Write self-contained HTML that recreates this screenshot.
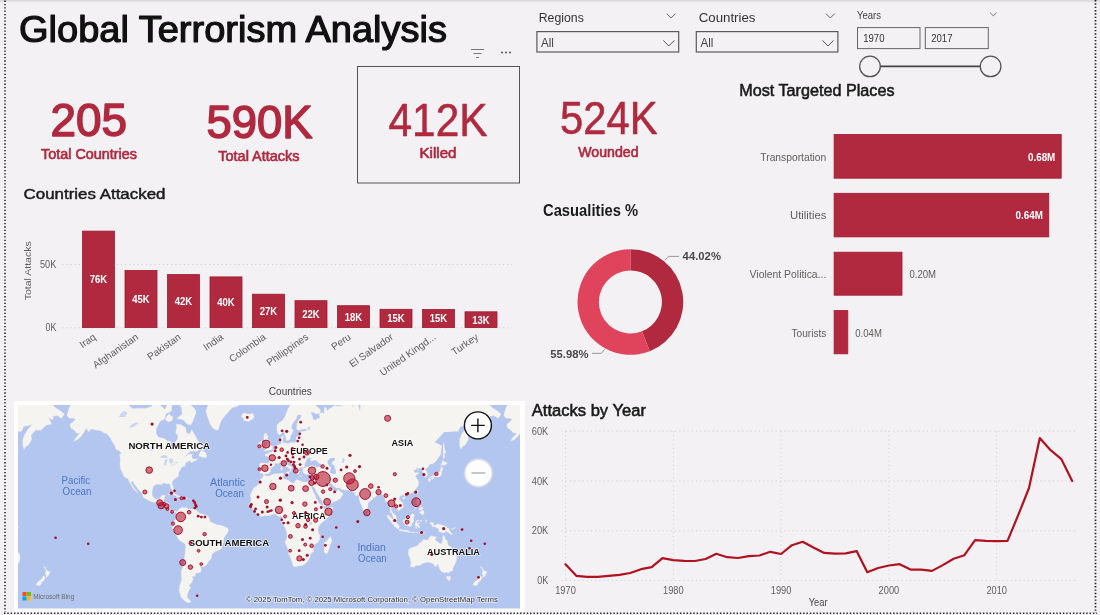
<!DOCTYPE html><html><head><meta charset="utf-8"><title>Global Terrorism Analysis</title><style>
html,body{margin:0;padding:0;}
body{width:1100px;height:615px;overflow:hidden;background:#f3f1f4;font-family:"Liberation Sans", sans-serif;position:relative;color:#222;}
.abs{position:absolute;white-space:nowrap;line-height:1;}
svg{position:absolute;left:0;top:0;}
svg text{font-family:"Liberation Sans", sans-serif;}
</style></head><body>
<div class="abs" style="left:0;top:0;width:1100px;height:3px;background:linear-gradient(#d4d3d6,#f3f1f4);"></div>
<svg width="1100" height="615" viewBox="0 0 1100 615"><line x1="5" y1="0.6" x2="5" y2="612" stroke="#444" stroke-width="1.9" stroke-dasharray="1.3,2.02"/>
<line x1="1095.5" y1="0" x2="1095.5" y2="613" stroke="#222" stroke-width="1.7" stroke-dasharray="1.4,1.93"/>
<line x1="4" y1="613.2" x2="1097" y2="613.2" stroke="#222" stroke-width="1.5" stroke-dasharray="1.4,1.93"/>
<text x="19.0" y="42.1" font-size="36.3" font-weight="normal" fill="#111" textLength="428.0" lengthAdjust="spacingAndGlyphs" stroke="#111" stroke-width="1.2" stroke-linejoin="round">Global Terrorism Analysis</text>
<text x="50.5" y="136.2" font-size="45.5" font-weight="normal" fill="#b0293e" textLength="76.5" lengthAdjust="spacingAndGlyphs" stroke="#b0293e" stroke-width="1.5" stroke-linejoin="round">205</text>
<text x="41.0" y="159.0" font-size="13.8" font-weight="normal" fill="#b0293e" textLength="96.0" lengthAdjust="spacingAndGlyphs" stroke="#b0293e" stroke-width="0.6" stroke-linejoin="round">Total Countries</text>
<text x="206.5" y="137.6" font-size="45.5" font-weight="normal" fill="#b0293e" textLength="106.0" lengthAdjust="spacingAndGlyphs" stroke="#b0293e" stroke-width="1.5" stroke-linejoin="round">590K</text>
<text x="218.3" y="160.8" font-size="13.8" font-weight="normal" fill="#b0293e" textLength="81.2" lengthAdjust="spacingAndGlyphs" stroke="#b0293e" stroke-width="0.6" stroke-linejoin="round">Total Attacks</text>
<text x="388.5" y="135.8" font-size="45.5" font-weight="normal" fill="#b0293e" textLength="99.0" lengthAdjust="spacingAndGlyphs" stroke="#b0293e" stroke-width="0.5" stroke-linejoin="round">412K</text>
<text x="419.5" y="158.4" font-size="13.8" font-weight="normal" fill="#b0293e" textLength="37.0" lengthAdjust="spacingAndGlyphs" stroke="#b0293e" stroke-width="0.6" stroke-linejoin="round">Killed</text>
<text x="560.0" y="134.0" font-size="45.5" font-weight="normal" fill="#b0293e" textLength="97.5" lengthAdjust="spacingAndGlyphs" stroke="#b0293e" stroke-width="0.5" stroke-linejoin="round">524K</text>
<text x="578.3" y="157.0" font-size="13.8" font-weight="normal" fill="#b0293e" textLength="60.2" lengthAdjust="spacingAndGlyphs" stroke="#b0293e" stroke-width="0.6" stroke-linejoin="round">Wounded</text>
<rect x="357.5" y="66.5" width="162" height="116.5" fill="none" stroke="#555" stroke-width="1"/>
<g stroke="#777" stroke-width="1" fill="none"><line x1="471" y1="49.5" x2="484" y2="49.5"/><line x1="473.5" y1="53.5" x2="481.5" y2="53.5"/><line x1="476" y1="57.5" x2="479" y2="57.5"/></g>
<g fill="#666"><circle cx="502" cy="52.5" r="1.1"/><circle cx="506" cy="52.5" r="1.1"/><circle cx="510" cy="52.5" r="1.1"/></g>
<text x="538.7" y="22.4" font-size="13" font-weight="normal" fill="#333" textLength="45.1" lengthAdjust="spacingAndGlyphs">Regions</text>
<polyline points="666.7,13.6 671.1,18 675.5,13.6" fill="none" stroke="#666" stroke-width="1"/>
<rect x="536.9" y="31.6" width="141.80000000000007" height="20.4" fill="none" stroke="#5a5a5a" stroke-width="1.2"/>
<text x="541.0" y="47.1" font-size="12" font-weight="normal" fill="#444" textLength="12.9" lengthAdjust="spacingAndGlyphs">All</text>
<polyline points="663.3000000000001,40.4 668.8000000000001,46 674.3000000000001,40.4" fill="none" stroke="#555" stroke-width="1"/>
<text x="698.7" y="22.4" font-size="13" font-weight="normal" fill="#333" textLength="56.8" lengthAdjust="spacingAndGlyphs">Countries</text>
<polyline points="825.9,13.6 830.3,18 834.6999999999999,13.6" fill="none" stroke="#666" stroke-width="1"/>
<rect x="696.3" y="31.6" width="141.60000000000002" height="20.4" fill="none" stroke="#5a5a5a" stroke-width="1.2"/>
<text x="700.4" y="47.1" font-size="12" font-weight="normal" fill="#444" textLength="12.9" lengthAdjust="spacingAndGlyphs">All</text>
<polyline points="822.5,40.4 828.0,46 833.5,40.4" fill="none" stroke="#555" stroke-width="1"/>
<text x="857.0" y="18.9" font-size="10" font-weight="normal" fill="#444" textLength="24.0" lengthAdjust="spacingAndGlyphs">Years</text>
<polyline points="990,12.7 993.3,15.8 996.6,12.7" fill="none" stroke="#777" stroke-width="1"/>
<rect x="857.5" y="27.6" width="62.5" height="21" fill="none" stroke="#666" stroke-width="1"/>
<rect x="925.3" y="27.6" width="63" height="21" fill="none" stroke="#666" stroke-width="1"/>
<text x="863.2" y="41.6" font-size="10.3" font-weight="normal" fill="#333" textLength="21.3" lengthAdjust="spacingAndGlyphs">1970</text>
<text x="931.2" y="41.6" font-size="10.3" font-weight="normal" fill="#333" textLength="21.3" lengthAdjust="spacingAndGlyphs">2017</text>
<line x1="870" y1="66.4" x2="990" y2="66.4" stroke="#444" stroke-width="1.6"/>
<circle cx="870" cy="66.4" r="10.3" fill="#f3f1f4" stroke="#555" stroke-width="1.3"/>
<circle cx="990.6" cy="66.4" r="10.3" fill="#f3f1f4" stroke="#555" stroke-width="1.3"/>
<text x="23.5" y="198.9" font-size="15.2" font-weight="normal" fill="#1a1a1a" textLength="142.0" lengthAdjust="spacingAndGlyphs" stroke="#1a1a1a" stroke-width="0.45" stroke-linejoin="round">Countries Attacked</text>
<text x="543.0" y="216.3" font-size="15.8" font-weight="bold" fill="#1a1a1a" textLength="95.2" lengthAdjust="spacingAndGlyphs">Casualities %</text>
<text x="739.2" y="96.3" font-size="16.5" font-weight="normal" fill="#1a1a1a" textLength="155.3" lengthAdjust="spacingAndGlyphs" stroke="#1a1a1a" stroke-width="0.55" stroke-linejoin="round">Most Targeted Places</text>
<text x="531.8" y="416.4" font-size="16.3" font-weight="normal" fill="#1a1a1a" textLength="114.1" lengthAdjust="spacingAndGlyphs" stroke="#1a1a1a" stroke-width="0.55" stroke-linejoin="round">Attacks by Year</text>
<line x1="62" y1="264.5" x2="512" y2="264.5" stroke="#d2d0d4" stroke-width="1" stroke-dasharray="1.2,3"/>
<line x1="62" y1="327.8" x2="512" y2="327.8" stroke="#d2d0d4" stroke-width="1" stroke-dasharray="1.2,3"/>
<rect x="82.5" y="231.1" width="32" height="96.5" fill="#b0293e" stroke="#a01a30" stroke-width="0.8"/>
<text x="89.8" y="283.1" font-size="11" font-weight="bold" fill="#fff" textLength="17.4" lengthAdjust="spacingAndGlyphs">76K</text>
<text transform="translate(96.6,338.5) rotate(-35)" font-size="10" fill="#605e5c" text-anchor="end">Iraq</text>
<rect x="125.0" y="270.4" width="32" height="57.2" fill="#b0293e" stroke="#a01a30" stroke-width="0.8"/>
<text x="132.3" y="302.8" font-size="11" font-weight="bold" fill="#fff" textLength="17.4" lengthAdjust="spacingAndGlyphs">45K</text>
<text transform="translate(139.1,338.5) rotate(-35)" font-size="10" fill="#605e5c" text-anchor="end">Afghanistan</text>
<rect x="167.5" y="274.6" width="32" height="53.0" fill="#b0293e" stroke="#a01a30" stroke-width="0.8"/>
<text x="174.8" y="304.9" font-size="11" font-weight="bold" fill="#fff" textLength="17.4" lengthAdjust="spacingAndGlyphs">42K</text>
<text transform="translate(181.6,338.5) rotate(-35)" font-size="10" fill="#605e5c" text-anchor="end">Pakistan</text>
<rect x="210.0" y="276.9" width="32" height="50.7" fill="#b0293e" stroke="#a01a30" stroke-width="0.8"/>
<text x="217.3" y="306.1" font-size="11" font-weight="bold" fill="#fff" textLength="17.4" lengthAdjust="spacingAndGlyphs">40K</text>
<text transform="translate(224.1,338.5) rotate(-35)" font-size="10" fill="#605e5c" text-anchor="end">India</text>
<rect x="252.5" y="294.2" width="32" height="33.4" fill="#b0293e" stroke="#a01a30" stroke-width="0.8"/>
<text x="259.8" y="314.7" font-size="11" font-weight="bold" fill="#fff" textLength="17.4" lengthAdjust="spacingAndGlyphs">27K</text>
<text transform="translate(266.6,338.5) rotate(-35)" font-size="10" fill="#605e5c" text-anchor="end">Colombia</text>
<rect x="295.0" y="300.7" width="32" height="26.9" fill="#b0293e" stroke="#a01a30" stroke-width="0.8"/>
<text x="302.3" y="318.0" font-size="11" font-weight="bold" fill="#fff" textLength="17.4" lengthAdjust="spacingAndGlyphs">22K</text>
<text transform="translate(309.1,338.5) rotate(-35)" font-size="10" fill="#605e5c" text-anchor="end">Philippines</text>
<rect x="337.5" y="305.7" width="32" height="21.9" fill="#b0293e" stroke="#a01a30" stroke-width="0.8"/>
<text x="344.8" y="320.5" font-size="11" font-weight="bold" fill="#fff" textLength="17.4" lengthAdjust="spacingAndGlyphs">18K</text>
<text transform="translate(351.6,338.5) rotate(-35)" font-size="10" fill="#605e5c" text-anchor="end">Peru</text>
<rect x="380.0" y="309.3" width="32" height="18.3" fill="#b0293e" stroke="#a01a30" stroke-width="0.8"/>
<text x="387.3" y="322.2" font-size="11" font-weight="bold" fill="#fff" textLength="17.4" lengthAdjust="spacingAndGlyphs">15K</text>
<text transform="translate(394.1,338.5) rotate(-35)" font-size="10" fill="#605e5c" text-anchor="end">El Salvador</text>
<rect x="422.5" y="309.5" width="32" height="18.1" fill="#b0293e" stroke="#a01a30" stroke-width="0.8"/>
<text x="429.8" y="322.4" font-size="11" font-weight="bold" fill="#fff" textLength="17.4" lengthAdjust="spacingAndGlyphs">15K</text>
<text transform="translate(436.6,338.5) rotate(-35)" font-size="10" fill="#605e5c" text-anchor="end">United Kingd...</text>
<rect x="465.0" y="311.8" width="32" height="15.8" fill="#b0293e" stroke="#a01a30" stroke-width="0.8"/>
<text x="472.3" y="323.5" font-size="11" font-weight="bold" fill="#fff" textLength="17.4" lengthAdjust="spacingAndGlyphs">13K</text>
<text transform="translate(479.1,338.5) rotate(-35)" font-size="10" fill="#605e5c" text-anchor="end">Turkey</text>
<text x="40.0" y="268.2" font-size="10.5" font-weight="normal" fill="#605e5c" textLength="16.3" lengthAdjust="spacingAndGlyphs">50K</text>
<text x="45.5" y="331.4" font-size="10.5" font-weight="normal" fill="#605e5c" textLength="10.8" lengthAdjust="spacingAndGlyphs">0K</text>
<text transform="translate(31.3,270.8) rotate(-90)" font-size="9.8" fill="#605e5c" text-anchor="middle" textLength="59" lengthAdjust="spacingAndGlyphs">Total Attacks</text>
<text x="268.8" y="394.8" font-size="10.6" font-weight="normal" fill="#444" textLength="43.1" lengthAdjust="spacingAndGlyphs">Countries</text>
<path d="M630.40,249.15 A52.85,52.85 0 0 1 649.79,351.16 L641.96,331.30 A31.5,31.5 0 0 0 630.40,270.50 Z" fill="#b0293e"/>
<path d="M649.79,351.16 A52.85,52.85 0 1 1 630.40,249.15 L630.40,270.50 A31.5,31.5 0 1 0 641.96,331.30 Z" fill="#e0435c"/>
<polyline points="664.7,260.3 669,256.4 679,256.4" fill="none" stroke="#999" stroke-width="1"/>
<polyline points="604.6,349.4 601.4,353.3 592,353.3" fill="none" stroke="#999" stroke-width="1"/>
<text x="682.6" y="260.1" font-size="11.3" font-weight="bold" fill="#4a4a4a" textLength="38.4" lengthAdjust="spacingAndGlyphs">44.02%</text>
<text x="550.3" y="357.6" font-size="11.3" font-weight="bold" fill="#4a4a4a" textLength="38.3" lengthAdjust="spacingAndGlyphs">55.98%</text>
<rect x="834.1" y="134.4" width="227.1" height="43.8" fill="#b0293e" stroke="#a01a30" stroke-width="0.8"/>
<text x="760.3" y="160.6" font-size="10.6" font-weight="normal" fill="#605e5c" textLength="66.0" lengthAdjust="spacingAndGlyphs">Transportation</text>
<text x="1028.0" y="160.6" font-size="10.6" font-weight="bold" fill="#fff" textLength="27.3" lengthAdjust="spacingAndGlyphs">0.68M</text>
<rect x="834.1" y="193.3" width="214.7" height="43.6" fill="#b0293e" stroke="#a01a30" stroke-width="0.8"/>
<text x="790.0" y="219.4" font-size="10.6" font-weight="normal" fill="#605e5c" textLength="36.3" lengthAdjust="spacingAndGlyphs">Utilities</text>
<text x="1015.6" y="219.4" font-size="10.6" font-weight="bold" fill="#fff" textLength="27.3" lengthAdjust="spacingAndGlyphs">0.64M</text>
<rect x="834.1" y="252.20000000000002" width="67.9" height="43.0" fill="#b0293e" stroke="#a01a30" stroke-width="0.8"/>
<text x="749.6" y="278.0" font-size="10.6" font-weight="normal" fill="#605e5c" textLength="76.7" lengthAdjust="spacingAndGlyphs">Violent Politica...</text>
<text x="909.5" y="278.0" font-size="10.6" font-weight="normal" fill="#605e5c" textLength="26.6" lengthAdjust="spacingAndGlyphs">0.20M</text>
<rect x="834.1" y="310.59999999999997" width="13.7" height="43.2" fill="#b0293e" stroke="#a01a30" stroke-width="0.8"/>
<text x="791.5" y="336.5" font-size="10.6" font-weight="normal" fill="#605e5c" textLength="34.8" lengthAdjust="spacingAndGlyphs">Tourists</text>
<text x="855.3" y="336.5" font-size="10.6" font-weight="normal" fill="#605e5c" textLength="26.6" lengthAdjust="spacingAndGlyphs">0.04M</text>
<line x1="561.5" y1="431" x2="1078" y2="431" stroke="#d2d0d4" stroke-width="1" stroke-dasharray="1.2,3"/>
<text x="531.8" y="434.6" font-size="10.5" font-weight="normal" fill="#605e5c" textLength="16.5" lengthAdjust="spacingAndGlyphs">60K</text>
<line x1="561.5" y1="481" x2="1078" y2="481" stroke="#d2d0d4" stroke-width="1" stroke-dasharray="1.2,3"/>
<text x="531.8" y="484.6" font-size="10.5" font-weight="normal" fill="#605e5c" textLength="16.5" lengthAdjust="spacingAndGlyphs">40K</text>
<line x1="561.5" y1="530.8" x2="1078" y2="530.8" stroke="#d2d0d4" stroke-width="1" stroke-dasharray="1.2,3"/>
<text x="531.8" y="534.4" font-size="10.5" font-weight="normal" fill="#605e5c" textLength="16.5" lengthAdjust="spacingAndGlyphs">20K</text>
<line x1="561.5" y1="580.5" x2="1078" y2="580.5" stroke="#d2d0d4" stroke-width="1" stroke-dasharray="1.2,3"/>
<text x="537.3" y="584.1" font-size="10.5" font-weight="normal" fill="#605e5c" textLength="11.0" lengthAdjust="spacingAndGlyphs">0K</text>
<line x1="565.5" y1="431" x2="565.5" y2="580.5" stroke="#d2d0d4" stroke-width="1" stroke-dasharray="1.2,3"/>
<text x="555.2" y="594.0" font-size="10.5" font-weight="normal" fill="#605e5c" textLength="20.6" lengthAdjust="spacingAndGlyphs">1970</text>
<line x1="673.3" y1="431" x2="673.3" y2="580.5" stroke="#d2d0d4" stroke-width="1" stroke-dasharray="1.2,3"/>
<text x="663.0" y="594.0" font-size="10.5" font-weight="normal" fill="#605e5c" textLength="20.6" lengthAdjust="spacingAndGlyphs">1980</text>
<line x1="781.1" y1="431" x2="781.1" y2="580.5" stroke="#d2d0d4" stroke-width="1" stroke-dasharray="1.2,3"/>
<text x="770.8" y="594.0" font-size="10.5" font-weight="normal" fill="#605e5c" textLength="20.6" lengthAdjust="spacingAndGlyphs">1990</text>
<line x1="888.9" y1="431" x2="888.9" y2="580.5" stroke="#d2d0d4" stroke-width="1" stroke-dasharray="1.2,3"/>
<text x="878.6" y="594.0" font-size="10.5" font-weight="normal" fill="#605e5c" textLength="20.6" lengthAdjust="spacingAndGlyphs">2000</text>
<line x1="996.7" y1="431" x2="996.7" y2="580.5" stroke="#d2d0d4" stroke-width="1" stroke-dasharray="1.2,3"/>
<text x="986.4" y="594.0" font-size="10.5" font-weight="normal" fill="#605e5c" textLength="20.6" lengthAdjust="spacingAndGlyphs">2010</text>
<text x="808.7" y="605.5" font-size="10.6" font-weight="normal" fill="#444" textLength="18.8" lengthAdjust="spacingAndGlyphs">Year</text>
<polyline points="565.5,564.2 576.3,575.8 587.1,576.8 597.8,576.8 608.6,575.8 619.4,574.8 630.2,573.0 641.0,569.2 651.7,567.2 662.5,558.2 673.3,560.2 684.1,560.8 694.9,561.0 705.6,559.0 716.4,553.8 727.2,557.2 738.0,558.0 748.8,556.2 759.5,555.5 770.3,551.8 781.1,554.0 791.9,545.2 802.7,541.8 813.4,547.5 824.2,552.9 835.0,553.6 845.8,553.3 856.6,551.1 867.3,572.2 878.1,568.0 888.9,565.5 899.7,564.2 910.5,569.6 921.2,569.6 932.0,570.9 942.8,565.1 953.6,558.7 964.4,555.2 975.1,540.2 985.9,540.8 996.7,541.1 1007.5,540.8 1018.3,514.9 1029.0,488.0 1039.8,438.0 1050.6,450.2 1061.4,459.2 1072.2,481.0" fill="none" stroke="#b1121f" stroke-width="2.2" stroke-linejoin="round" stroke-linecap="round"/></svg>
<div class="abs" style="left:14px;top:401px;width:511px;height:211px;background:#fff;"></div>
<svg style="left:18.3px;top:405.2px" width="502.09999999999997" height="203.50000000000006" viewBox="18.3 405.2 502.09999999999997 203.50000000000006">
<rect x="18.3" y="405.2" width="502.09999999999997" height="203.50000000000006" fill="#b3c6ef"/>
<path d="M67.2,415.8 L69.6,407.2 L74.4,400.6 L81.1,396.6 L91.4,400.3 L99.9,402.8 L107.2,403.8 L115.7,400.3 L120.6,403.5 L129.0,405.2 L132.7,408.8 L140.0,408.5 L146.0,408.5 L152.1,406.5 L155.1,395.8 L158.2,401.4 L161.8,406.5 L165.4,409.7 L167.9,403.1 L172.1,404.8 L172.1,411.3 L166.0,414.3 L165.4,418.7 L160.6,421.5 L156.9,428.0 L156.3,433.5 L158.8,437.4 L164.2,438.5 L167.9,441.1 L171.1,441.5 L171.3,445.9 L173.3,449.2 L175.4,447.9 L175.1,442.8 L177.6,439.6 L178.2,436.3 L175.8,432.8 L177.0,428.0 L176.4,424.4 L181.2,424.7 L186.1,428.0 L186.7,432.8 L189.7,434.5 L192.1,429.7 L195.8,436.3 L198.2,440.7 L201.8,444.9 L203.4,447.9 L200.0,449.4 L198.2,451.4 L190.9,451.4 L187.3,454.5 L184.9,457.6 L188.5,454.5 L193.0,454.0 L192.1,456.3 L192.7,458.6 L196.4,459.5 L198.2,458.1 L197.0,460.4 L193.3,461.9 L190.9,463.3 L190.9,460.7 L189.7,461.2 L186.1,462.9 L185.2,465.7 L186.1,466.2 L184.2,466.7 L181.2,468.0 L181.0,469.8 L179.4,472.1 L178.8,473.6 L179.3,476.2 L177.0,477.6 L174.5,479.5 L172.7,481.7 L172.4,483.8 L173.7,488.0 L173.7,490.3 L172.5,490.4 L170.7,487.0 L170.5,484.9 L169.1,483.8 L167.3,484.1 L164.8,483.4 L162.4,483.5 L162.8,485.1 L160.6,484.8 L156.9,484.4 L153.9,486.2 L152.9,489.3 L152.3,494.0 L153.1,496.6 L154.5,498.5 L156.3,499.5 L159.4,499.0 L161.0,497.9 L161.3,495.9 L164.2,495.1 L165.7,495.5 L164.8,497.9 L164.0,500.4 L163.3,502.5 L166.7,502.5 L169.9,503.6 L169.4,506.7 L169.6,508.7 L171.1,510.8 L173.9,510.8 L177.0,511.6 L177.6,511.6 L179.4,508.9 L181.2,508.3 L183.6,507.1 L184.2,508.6 L186.1,507.2 L188.5,509.1 L192.7,509.4 L195.8,508.9 L197.6,511.6 L200.6,513.7 L204.3,514.7 L207.9,515.9 L209.1,517.1 L210.3,520.8 L210.3,522.0 L212.8,522.8 L217.0,525.0 L221.3,525.5 L224.3,526.5 L228.2,528.4 L228.8,531.1 L226.7,534.8 L224.3,537.9 L223.7,542.3 L222.8,546.1 L221.3,549.4 L218.6,550.7 L215.2,552.0 L212.2,554.7 L211.9,558.1 L209.1,561.6 L206.1,565.9 L203.1,567.2 L200.1,565.9 L201.8,569.6 L200.6,572.7 L195.8,573.5 L195.4,576.6 L192.1,576.6 L193.7,579.1 L191.8,583.3 L189.1,585.9 L191.2,587.7 L188.5,592.3 L187.3,596.1 L187.9,598.1 L191.5,601.8 L188.5,603.3 L184.9,601.2 L181.2,597.1 L179.4,590.4 L180.0,585.9 L181.8,579.9 L181.5,575.0 L181.8,570.4 L184.0,564.5 L184.2,560.2 L185.5,553.3 L185.8,546.8 L185.6,544.6 L183.6,542.9 L179.4,540.4 L178.2,538.5 L177.3,536.7 L175.1,531.7 L172.7,529.3 L172.4,527.2 L173.9,525.6 L172.7,523.2 L173.9,521.4 L175.4,520.2 L177.0,517.1 L177.0,513.5 L175.8,512.3 L173.9,513.1 L172.1,512.3 L170.3,511.9 L167.9,509.8 L166.9,508.6 L164.8,506.1 L162.4,505.5 L159.4,504.2 L156.9,502.1 L153.9,502.7 L149.9,501.3 L147.2,499.8 L143.6,497.9 L143.0,495.3 L141.8,492.9 L138.8,490.0 L136.9,487.3 L134.5,484.5 L133.9,482.0 L131.7,481.4 L131.8,483.8 L134.1,487.3 L136.3,490.7 L138.1,493.3 L137.2,492.7 L135.1,490.7 L132.7,487.7 L131.5,485.2 L129.7,482.4 L128.8,480.0 L127.2,478.1 L124.8,477.4 L123.0,473.9 L122.4,472.4 L120.6,468.5 L120.2,464.1 L120.6,458.6 L119.7,454.7 L121.8,453.6 L119.3,450.8 L116.3,449.8 L115.1,445.9 L112.9,442.8 L110.8,438.5 L107.2,434.0 L104.2,433.3 L101.1,430.9 L96.3,430.4 L91.4,429.2 L89.0,432.1 L86.6,428.5 L84.2,432.8 L81.7,436.3 L78.1,439.6 L73.8,441.8 L75.7,438.5 L79.3,434.5 L79.9,433.3 L76.9,433.5 L74.4,430.4 L70.8,428.0 L70.2,424.1 L73.2,422.3 L75.7,419.5 L73.2,418.4 L69.6,418.4Z M504.0,415.8 L506.4,407.2 L511.2,400.6 L517.9,396.6 L528.2,400.3 L536.7,402.8 L544.0,403.8 L552.5,400.3 L557.3,403.5 L565.8,405.2 L569.5,408.8 L576.8,408.5 L582.8,408.5 L588.9,406.5 L591.9,395.8 L595.0,401.4 L598.6,406.5 L602.2,409.7 L604.7,403.1 L608.9,404.8 L608.9,411.3 L602.8,414.3 L602.2,418.7 L597.4,421.5 L593.7,428.0 L593.1,433.5 L595.6,437.4 L601.0,438.5 L604.7,441.1 L607.9,441.5 L608.1,445.9 L610.1,449.2 L612.2,447.9 L611.9,442.8 L614.4,439.6 L615.0,436.3 L612.5,432.8 L613.8,428.0 L613.2,424.4 L618.0,424.7 L622.9,428.0 L623.5,432.8 L626.5,434.5 L628.9,429.7 L632.6,436.3 L635.0,440.7 L638.6,444.9 L640.2,447.9 L636.8,449.4 L635.0,451.4 L627.7,451.4 L624.1,454.5 L621.6,457.6 L625.3,454.5 L629.8,454.0 L628.9,456.3 L629.5,458.6 L633.2,459.5 L635.0,458.1 L633.8,460.4 L630.1,461.9 L627.7,463.3 L627.7,460.7 L626.5,461.2 L622.9,462.9 L622.0,465.7 L622.9,466.2 L621.0,466.7 L618.0,468.0 L617.8,469.8 L616.2,472.1 L615.6,473.6 L616.1,476.2 L613.8,477.6 L611.3,479.5 L609.5,481.7 L609.1,483.8 L610.5,488.0 L610.5,490.3 L609.3,490.4 L607.4,487.0 L607.3,484.9 L605.9,483.8 L604.1,484.1 L601.6,483.4 L599.2,483.5 L599.6,485.1 L597.4,484.8 L593.7,484.4 L590.7,486.2 L589.7,489.3 L589.1,494.0 L589.9,496.6 L591.3,498.5 L593.1,499.5 L596.2,499.0 L597.7,497.9 L598.1,495.9 L601.0,495.1 L602.5,495.5 L601.6,497.9 L600.8,500.4 L600.0,502.5 L603.4,502.5 L606.7,503.6 L606.2,506.7 L606.4,508.7 L607.9,510.8 L610.7,510.8 L613.8,511.6 L614.4,511.6 L616.2,508.9 L618.0,508.3 L620.4,507.1 L621.0,508.6 L622.9,507.2 L625.3,509.1 L629.5,509.4 L632.6,508.9 L634.4,511.6 L637.4,513.7 L641.1,514.7 L644.7,515.9 L645.9,517.1 L647.1,520.8 L647.1,522.0 L649.5,522.8 L653.8,525.0 L658.0,525.5 L661.1,526.5 L665.0,528.4 L665.6,531.1 L663.5,534.8 L661.1,537.9 L660.5,542.3 L659.6,546.1 L658.0,549.4 L655.4,550.7 L652.0,552.0 L648.9,554.7 L648.7,558.1 L645.9,561.6 L642.9,565.9 L639.8,567.2 L636.9,565.9 L638.6,569.6 L637.4,572.7 L632.6,573.5 L632.2,576.6 L628.9,576.6 L630.5,579.1 L628.6,583.3 L625.9,585.9 L628.0,587.7 L625.3,592.3 L624.1,596.1 L624.7,598.1 L628.3,601.8 L625.3,603.3 L621.6,601.2 L618.0,597.1 L616.2,590.4 L616.8,585.9 L618.6,579.9 L618.2,575.0 L618.6,570.4 L620.8,564.5 L621.0,560.2 L622.3,553.3 L622.6,546.8 L622.4,544.6 L620.4,542.9 L616.2,540.4 L615.0,538.5 L614.1,536.7 L611.9,531.7 L609.5,529.3 L609.1,527.2 L610.7,525.6 L609.5,523.2 L610.7,521.4 L612.2,520.2 L613.8,517.1 L613.8,513.5 L612.5,512.3 L610.7,513.1 L608.9,512.3 L607.1,511.9 L604.7,509.8 L603.7,508.6 L601.6,506.1 L599.2,505.5 L596.2,504.2 L593.7,502.1 L590.7,502.7 L586.7,501.3 L584.0,499.8 L580.4,497.9 L579.8,495.3 L578.6,492.9 L575.5,490.0 L573.7,487.3 L571.3,484.5 L570.7,482.0 L568.5,481.4 L568.6,483.8 L570.9,487.3 L573.1,490.7 L574.9,493.3 L574.0,492.7 L571.9,490.7 L569.5,487.7 L568.3,485.2 L566.4,482.4 L565.6,480.0 L564.0,478.1 L561.6,477.4 L559.8,473.9 L559.2,472.4 L557.3,468.5 L557.0,464.1 L557.3,458.6 L556.5,454.7 L558.6,453.6 L556.1,450.8 L553.1,449.8 L551.9,445.9 L549.7,442.8 L547.6,438.5 L544.0,434.0 L541.0,433.3 L537.9,430.9 L533.1,430.4 L528.2,429.2 L525.8,432.1 L523.4,428.5 L520.9,432.8 L518.5,436.3 L514.9,439.6 L510.6,441.8 L512.4,438.5 L516.1,434.5 L516.7,433.3 L513.7,433.5 L511.2,430.4 L507.6,428.0 L507.0,424.1 L510.0,422.3 L512.4,419.5 L510.0,418.4 L506.4,418.4Z M216.4,430.4 L218.8,430.0 L220.0,425.4 L221.9,420.1 L226.1,415.2 L232.2,408.1 L238.2,406.5 L244.3,400.3 L244.3,393.9 L246.7,381.0 L249.2,371.0 L246.7,352.6 L234.6,327.7 L216.4,332.6 L198.2,337.1 L188.5,352.6 L182.4,363.6 L188.5,376.2 L198.2,376.2 L203.1,389.9 L205.5,399.6 L209.1,403.1 L206.1,411.3 L207.9,417.3 L210.3,424.1 L212.8,428.0Z M196.4,412.8 L193.3,421.5 L190.9,425.4 L187.3,424.1 L183.6,420.1 L177.0,418.7 L182.4,414.3 L181.8,408.1 L177.6,401.4 L167.9,400.6 L163.0,397.7 L162.4,387.8 L172.7,386.5 L177.6,390.7 L184.9,395.8 L189.1,403.1 L195.8,409.7Z M143.6,404.8 L129.0,404.8 L130.3,395.8 L127.8,391.9 L137.5,389.9 L143.6,387.8 L148.5,393.9 L147.2,403.1Z M119.3,395.8 L121.8,385.6 L127.8,384.3 L130.3,389.9 L124.2,396.6Z M165.4,420.1 L169.1,422.3 L172.7,420.6 L173.3,417.3 L169.1,414.3 L166.7,417.3Z M199.1,456.2 L203.1,457.6 L206.7,457.8 L207.1,456.0 L206.1,452.7 L203.7,451.7 L203.1,448.9 L201.2,451.2 L199.4,454.5Z M167.9,494.8 L170.9,493.2 L173.9,493.3 L177.6,495.3 L181.0,497.0 L177.0,497.4 L176.4,496.4 L173.9,495.0 L171.5,494.2 L169.1,494.9Z M180.7,499.3 L182.4,497.4 L186.1,497.5 L188.0,499.0 L186.1,499.5 L184.2,500.2 L182.4,499.5Z M176.0,499.3 L178.4,499.7 L177.0,500.0Z M189.5,499.3 L191.3,499.3 L190.9,499.9 L189.7,499.9Z M241.9,415.8 L243.7,413.1 L249.2,414.3 L253.4,413.7 L254.6,417.3 L252.8,419.5 L248.6,421.7 L243.7,420.6 L244.3,418.7 L241.9,417.8Z M-172.5,475.1 L-173.4,474.4 L-174.8,473.3 L-176.6,473.6 L-176.5,471.3 L-177.3,470.8 L-176.5,467.4 L-177.1,464.1 L-175.5,462.9 L-172.5,463.3 L-169.4,463.4 L-167.9,463.4 L-167.2,461.4 L-167.1,459.0 L-168.5,457.1 L-171.2,455.6 L-171.5,454.5 L-169.4,454.0 L-167.7,454.3 L-168.0,452.3 L-165.5,452.7 L-163.8,451.4 L-163.7,450.0 L-161.5,449.1 L-160.7,447.9 L-160.0,445.9 L-158.5,445.1 L-157.1,444.7 L-155.5,444.5 L-155.4,441.8 L-156.0,438.5 L-155.4,437.2 L-153.0,435.8 L-153.3,438.5 L-153.7,440.7 L-153.9,442.2 L-152.4,443.2 L-150.6,443.0 L-148.8,443.8 L-145.8,442.8 L-143.3,442.4 L-141.8,443.0 L-140.3,441.1 L-140.3,437.4 L-138.5,435.8 L-136.3,437.0 L-136.2,434.5 L-137.3,432.4 L-134.2,431.4 L-131.8,431.4 L-129.4,430.4 L-131.2,429.0 L-135.5,430.0 L-138.1,430.7 L-139.9,429.0 L-139.7,424.1 L-138.5,421.5 L-135.5,417.3 L-135.1,415.5 L-136.7,414.9 L-139.1,415.5 L-139.9,418.7 L-142.7,422.3 L-144.8,425.4 L-144.9,428.7 L-143.0,430.4 L-143.9,432.8 L-145.6,436.3 L-146.4,439.2 L-148.4,440.7 L-150.0,440.9 L-150.4,439.2 L-151.5,435.8 L-152.2,432.8 L-152.9,431.6 L-154.3,433.3 L-156.7,435.2 L-158.9,433.8 L-159.7,429.2 L-159.7,425.4 L-157.3,422.8 L-154.3,420.9 L-151.8,417.3 L-150.0,412.8 L-148.2,408.1 L-145.8,404.8 L-142.7,402.1 L-139.1,400.3 L-134.6,397.3 L-131.8,397.7 L-128.2,400.3 L-129.4,402.4 L-125.7,403.5 L-122.1,404.5 L-116.0,409.7 L-116.0,413.4 L-119.7,414.3 L-123.9,412.5 L-125.7,412.5 L-123.6,417.3 L-123.6,419.3 L-120.3,420.4 L-119.7,418.7 L-116.6,418.4 L-117.3,414.3 L-114.2,412.8 L-112.4,413.7 L-112.2,407.2 L-110.0,408.1 L-109.4,411.3 L-107.5,409.1 L-101.5,405.5 L-99.1,406.5 L-94.2,405.5 L-92.4,402.1 L-88.1,403.8 L-84.5,405.5 L-82.7,407.5 L-84.5,402.4 L-84.5,397.7 L-82.7,389.9 L-77.8,389.9 L-77.5,397.7 L-78.4,404.8 L-76.6,411.3 L-76.0,404.8 L-75.4,393.9 L-72.4,393.1 L-68.1,393.9 L-68.1,387.8 L-61.4,385.6 L-60.2,381.0 L-50.5,376.2 L-39.6,367.1 L-34.8,372.6 L-28.7,376.2 L-28.7,385.6 L-32.3,386.5 L-22.6,387.8 L-15.3,387.3 L-11.7,391.9 L-8.1,397.7 L-4.4,395.8 L2.9,395.8 L4.1,391.9 L15.0,393.9 L18.6,397.7 L27.1,398.5 L28.3,402.4 L36.8,402.8 L40.5,401.4 L41.7,404.8 L47.8,402.1 L52.6,404.8 L56.2,408.1 L61.1,411.3 L64.7,414.3 L61.7,418.7 L57.5,415.8 L53.8,416.4 L53.2,420.1 L49.0,418.1 L50.8,421.7 L52.0,424.1 L46.5,425.4 L41.1,430.4 L35.6,430.4 L31.4,435.6 L32.0,439.6 L30.8,441.8 L28.3,445.9 L26.5,446.3 L24.3,449.8 L23.1,445.9 L23.1,439.6 L24.7,435.2 L28.3,429.2 L32.6,424.7 L28.3,426.0 L24.1,426.7 L21.7,431.6 L17.4,431.6 L11.4,432.1 L7.7,432.1 L4.1,436.3 L-1.7,442.4 L1.0,443.8 L5.3,445.9 L4.7,449.8 L4.4,454.5 L1.6,458.5 L-1.4,462.4 L-4.4,464.4 L-5.8,463.9 L-7.2,465.3 L-8.4,467.4 L-11.1,469.4 L-8.8,473.6 L-8.9,475.9 L-11.1,477.2 L-12.5,477.4 L-12.3,473.6 L-14.1,472.1 L-13.8,469.8 L-15.0,469.0 L-17.8,468.2 L-18.7,470.7 L-19.0,467.7 L-21.4,470.2 L-23.0,470.8 L-21.6,472.9 L-19.0,472.7 L-17.2,473.3 L-19.6,474.8 L-21.0,476.6 L-19.6,478.8 L-18.0,481.3 L-17.8,483.8 L-18.4,485.9 L-20.2,488.6 L-22.0,491.1 L-23.8,492.7 L-27.2,494.2 L-31.1,495.3 L-32.0,496.8 L-32.9,495.3 L-34.8,495.1 L-36.3,496.6 L-37.5,498.5 L-36.0,501.1 L-33.9,503.0 L-33.1,506.1 L-33.3,508.0 L-36.0,509.3 L-36.6,510.4 L-38.4,511.4 L-38.4,509.8 L-40.2,509.1 L-41.4,507.3 L-43.2,506.3 L-43.9,505.5 L-44.5,506.7 L-45.3,509.2 L-44.5,511.6 L-43.2,513.5 L-41.4,514.7 L-40.2,516.5 L-40.2,519.0 L-39.4,520.3 L-40.3,520.3 L-42.9,518.6 L-44.0,515.9 L-44.7,513.7 L-46.3,512.3 L-46.3,509.2 L-46.3,506.7 L-47.2,503.0 L-47.5,501.4 L-49.3,501.7 L-51.1,502.3 L-51.4,499.2 L-53.6,495.9 L-54.8,494.0 L-56.6,494.6 L-58.4,494.9 L-60.2,495.9 L-60.8,497.2 L-62.7,497.9 L-65.9,501.3 L-68.4,503.0 L-68.5,506.1 L-69.0,509.4 L-69.9,510.7 L-70.9,511.3 L-71.8,512.1 L-73.2,510.1 L-74.4,507.3 L-75.4,504.8 L-76.6,502.3 L-77.5,498.5 L-77.6,495.9 L-78.1,494.9 L-80.3,496.2 L-82.1,494.2 L-80.9,493.3 L-83.0,492.4 L-84.5,490.9 L-85.1,490.1 L-90.6,490.4 L-95.4,489.8 L-96.6,488.0 L-99.7,488.5 L-102.1,487.3 L-103.9,485.2 L-105.1,483.5 L-106.6,483.5 L-107.5,484.5 L-106.7,486.6 L-105.1,488.4 L-104.9,490.0 L-103.5,489.2 L-103.2,490.9 L-102.1,491.7 L-99.7,491.7 L-97.6,489.0 L-97.2,491.3 L-94.6,492.7 L-93.2,494.1 L-94.8,496.8 L-95.8,498.5 L-99.1,500.7 L-102.7,502.3 L-106.9,504.8 L-111.2,506.3 L-113.0,506.5 L-113.9,503.6 L-114.2,501.3 L-116.0,498.5 L-118.2,495.3 L-120.3,491.6 L-121.5,489.3 L-123.3,486.6 L-123.3,484.5 L-124.2,486.9 L-125.5,485.5 L-126.2,483.8 L-126.6,482.1 L-124.3,482.0 L-123.3,479.8 L-122.4,477.4 L-122.2,475.1 L-121.9,474.1 L-124.5,474.7 L-127.0,475.0 L-128.5,473.9 L-130.6,474.7 L-132.7,473.6 L-133.9,471.6 L-133.3,469.8 L-134.0,469.0 L-133.0,468.3 L-130.6,468.2 L-130.4,467.2 L-127.8,467.0 L-125.1,465.7 L-123.1,465.7 L-121.5,466.9 L-119.1,467.4 L-115.4,466.6 L-115.4,464.6 L-117.6,463.3 L-120.5,460.7 L-121.3,460.2 L-123.0,460.7 L-125.1,461.6 L-126.4,460.0 L-125.0,458.8 L-127.6,457.9 L-128.5,458.3 L-129.8,460.2 L-131.1,462.8 L-131.9,464.6 L-131.8,466.6 L-130.6,467.0 L-132.4,467.4 L-134.0,467.8 L-136.7,467.7 L-136.9,469.0 L-138.1,468.3 L-138.1,470.1 L-136.7,472.1 L-137.9,472.9 L-137.6,474.4 L-139.5,473.9 L-140.1,471.8 L-141.5,469.8 L-142.2,468.2 L-142.1,466.1 L-143.3,464.9 L-146.4,463.3 L-147.6,461.6 L-148.4,460.2 L-149.3,460.6 L-149.2,459.5 L-150.7,460.0 L-150.7,462.1 L-149.3,463.3 L-148.6,465.1 L-146.4,465.9 L-143.9,467.8 L-143.3,468.8 L-145.2,468.2 L-145.6,469.4 L-145.0,470.5 L-145.8,471.5 L-146.7,472.1 L-146.4,470.5 L-147.0,469.0 L-148.4,467.7 L-150.6,466.6 L-152.4,464.9 L-153.3,463.3 L-154.9,461.9 L-156.7,462.8 L-158.5,463.9 L-160.3,463.4 L-161.9,463.8 L-161.9,465.7 L-163.1,466.9 L-164.9,467.8 L-166.2,469.8 L-165.7,471.0 L-166.6,472.7 L-168.2,473.9 L-171.1,474.1Z M264.3,475.1 L263.4,474.4 L262.0,473.3 L260.2,473.6 L260.3,471.3 L259.5,470.8 L260.3,467.4 L259.7,464.1 L261.3,462.9 L264.3,463.3 L267.4,463.4 L268.9,463.4 L269.5,461.4 L269.7,459.0 L268.3,457.1 L265.5,455.6 L265.3,454.5 L267.4,454.0 L269.1,454.3 L268.8,452.3 L271.2,452.7 L272.9,451.4 L273.1,450.0 L275.2,449.1 L276.1,447.9 L276.8,445.9 L278.3,445.1 L279.7,444.7 L281.3,444.5 L281.4,441.8 L280.8,438.5 L281.4,437.2 L283.7,435.8 L283.5,438.5 L283.1,440.7 L282.9,442.2 L284.3,443.2 L286.2,443.0 L288.0,443.8 L291.0,442.8 L293.4,442.4 L295.0,443.0 L296.5,441.1 L296.5,437.4 L298.3,435.8 L300.5,437.0 L300.6,434.5 L299.5,432.4 L302.5,431.4 L305.0,431.4 L307.4,430.4 L305.6,429.0 L301.3,430.0 L298.7,430.7 L296.8,429.0 L297.1,424.1 L298.3,421.5 L301.3,417.3 L301.7,415.5 L300.1,414.9 L297.7,415.5 L296.8,418.7 L294.1,422.3 L292.0,425.4 L291.9,428.7 L293.8,430.4 L292.8,432.8 L291.1,436.3 L290.4,439.2 L288.4,440.7 L286.8,440.9 L286.4,439.2 L285.3,435.8 L284.6,432.8 L283.9,431.6 L282.5,433.3 L280.1,435.2 L277.9,433.8 L277.1,429.2 L277.1,425.4 L279.5,422.8 L282.5,420.9 L285.0,417.3 L286.8,412.8 L288.6,408.1 L291.0,404.8 L294.1,402.1 L297.7,400.3 L302.2,397.3 L305.0,397.7 L308.6,400.3 L307.4,402.4 L311.0,403.5 L314.7,404.5 L320.7,409.7 L320.7,413.4 L317.1,414.3 L312.9,412.5 L311.0,412.5 L313.2,417.3 L313.2,419.3 L316.5,420.4 L317.1,418.7 L320.1,418.4 L319.5,414.3 L322.6,412.8 L324.4,413.7 L324.6,407.2 L326.8,408.1 L327.4,411.3 L329.2,409.1 L335.3,405.5 L337.7,406.5 L342.6,405.5 L344.4,402.1 L348.7,403.8 L352.3,405.5 L354.1,407.5 L352.3,402.4 L352.3,397.7 L354.1,389.9 L359.0,389.9 L359.3,397.7 L358.4,404.8 L360.2,411.3 L360.8,404.8 L361.4,393.9 L364.4,393.1 L368.7,393.9 L368.7,387.8 L375.3,385.6 L376.6,381.0 L386.3,376.2 L397.2,367.1 L402.0,372.6 L408.1,376.2 L408.1,385.6 L404.5,386.5 L414.2,387.8 L421.4,387.3 L425.1,391.9 L428.7,397.7 L432.4,395.8 L439.6,395.8 L440.9,391.9 L451.8,393.9 L455.4,397.7 L463.9,398.5 L465.1,402.4 L473.6,402.8 L477.3,401.4 L478.5,404.8 L484.5,402.1 L489.4,404.8 L493.0,408.1 L497.9,411.3 L501.5,414.3 L498.5,418.7 L494.2,415.8 L490.6,416.4 L490.0,420.1 L485.8,418.1 L487.6,421.7 L488.8,424.1 L483.3,425.4 L477.9,430.4 L472.4,430.4 L468.2,435.6 L468.8,439.6 L467.6,441.8 L465.1,445.9 L463.3,446.3 L461.1,449.8 L459.9,445.9 L459.9,439.6 L461.5,435.2 L465.1,429.2 L469.4,424.7 L465.1,426.0 L460.9,426.7 L458.5,431.6 L454.2,431.6 L448.1,432.1 L444.5,432.1 L440.9,436.3 L435.0,442.4 L437.8,443.8 L442.1,445.9 L441.5,449.8 L441.2,454.5 L438.4,458.5 L435.4,462.4 L432.4,464.4 L431.0,463.9 L429.6,465.3 L428.4,467.4 L425.7,469.4 L428.0,473.6 L427.9,475.9 L425.7,477.2 L424.2,477.4 L424.5,473.6 L422.7,472.1 L423.0,469.8 L421.8,469.0 L419.0,468.2 L418.1,470.7 L417.8,467.7 L415.4,470.2 L413.8,470.8 L415.1,472.9 L417.8,472.7 L419.6,473.3 L417.2,474.8 L415.7,476.6 L417.2,478.8 L418.8,481.3 L419.0,483.8 L418.4,485.9 L416.6,488.6 L414.8,491.1 L413.0,492.7 L409.6,494.2 L405.7,495.3 L404.8,496.8 L403.9,495.3 L402.0,495.1 L400.5,496.6 L399.2,498.5 L400.8,501.1 L402.9,503.0 L403.7,506.1 L403.5,508.0 L400.8,509.3 L400.2,510.4 L398.4,511.4 L398.4,509.8 L396.6,509.1 L395.4,507.3 L393.5,506.3 L392.9,505.5 L392.3,506.7 L391.5,509.2 L392.3,511.6 L393.5,513.5 L395.4,514.7 L396.6,516.5 L396.6,519.0 L397.4,520.3 L396.5,520.3 L393.9,518.6 L392.8,515.9 L392.1,513.7 L390.5,512.3 L390.5,509.2 L390.5,506.7 L389.5,503.0 L389.3,501.4 L387.5,501.7 L385.7,502.3 L385.4,499.2 L383.2,495.9 L382.0,494.0 L380.2,494.6 L378.4,494.9 L376.6,495.9 L376.0,497.2 L374.1,497.9 L370.9,501.3 L368.4,503.0 L368.3,506.1 L367.8,509.4 L366.9,510.7 L365.9,511.3 L365.0,512.1 L363.6,510.1 L362.4,507.3 L361.4,504.8 L360.2,502.3 L359.3,498.5 L359.2,495.9 L358.7,494.9 L356.5,496.2 L354.7,494.2 L355.9,493.3 L353.7,492.4 L352.3,490.9 L351.7,490.1 L346.2,490.4 L341.4,489.8 L340.2,488.0 L337.1,488.5 L334.7,487.3 L332.9,485.2 L331.7,483.5 L330.2,483.5 L329.2,484.5 L330.1,486.6 L331.7,488.4 L331.9,490.0 L333.2,489.2 L333.6,490.9 L334.7,491.7 L337.1,491.7 L339.2,489.0 L339.6,491.3 L342.2,492.7 L343.6,494.1 L342.0,496.8 L341.0,498.5 L337.7,500.7 L334.1,502.3 L329.8,504.8 L325.6,506.3 L323.8,506.5 L322.9,503.6 L322.6,501.3 L320.7,498.5 L318.6,495.3 L316.5,491.6 L315.3,489.3 L313.5,486.6 L313.5,484.5 L312.6,486.9 L311.3,485.5 L310.6,483.8 L310.2,482.1 L312.5,482.0 L313.5,479.8 L314.4,477.4 L314.6,475.1 L314.9,474.1 L312.3,474.7 L309.8,475.0 L308.2,473.9 L306.2,474.7 L304.1,473.6 L302.9,471.6 L303.5,469.8 L302.8,469.0 L303.8,468.3 L306.2,468.2 L306.4,467.2 L309.0,467.0 L311.6,465.7 L313.7,465.7 L315.3,466.9 L317.7,467.4 L321.4,466.6 L321.4,464.6 L319.2,463.3 L316.3,460.7 L315.5,460.2 L313.8,460.7 L311.6,461.6 L310.4,460.0 L311.8,458.8 L309.2,457.9 L308.2,458.3 L307.0,460.2 L305.7,462.8 L304.9,464.6 L305.0,466.6 L306.2,467.0 L304.4,467.4 L302.8,467.8 L300.1,467.7 L299.9,469.0 L298.7,468.3 L298.7,470.1 L300.1,472.1 L298.9,472.9 L299.1,474.4 L297.3,473.9 L296.7,471.8 L295.3,469.8 L294.5,468.2 L294.7,466.1 L293.4,464.9 L290.4,463.3 L289.2,461.6 L288.4,460.2 L287.5,460.6 L287.6,459.5 L286.0,460.0 L286.0,462.1 L287.5,463.3 L288.2,465.1 L290.4,465.9 L292.8,467.8 L293.4,468.8 L291.6,468.2 L291.1,469.4 L291.7,470.5 L291.0,471.5 L290.0,472.1 L290.4,470.5 L289.8,469.0 L288.4,467.7 L286.2,466.6 L284.3,464.9 L283.5,463.3 L281.9,461.9 L280.1,462.8 L278.3,463.9 L276.5,463.4 L274.9,463.8 L274.9,465.7 L273.7,466.9 L271.8,467.8 L270.6,469.8 L271.1,471.0 L270.2,472.7 L268.6,473.9 L265.7,474.1Z M264.1,451.5 L266.8,451.2 L269.2,450.4 L272.6,449.6 L273.1,446.7 L271.2,445.9 L270.8,443.8 L269.2,441.8 L268.6,439.6 L267.6,439.0 L268.6,436.3 L266.8,435.8 L267.4,433.8 L264.9,433.8 L264.0,436.3 L264.3,439.6 L265.2,440.7 L264.9,442.2 L266.8,442.0 L267.4,443.8 L267.4,445.1 L265.5,445.3 L265.9,446.9 L264.7,448.3 L266.8,448.9 L267.4,449.2 L265.5,449.8Z M258.9,448.3 L260.7,448.7 L263.4,447.5 L263.7,444.9 L264.3,442.8 L263.1,441.3 L261.1,441.3 L260.7,442.8 L258.9,443.4 L259.5,445.3 L258.5,447.5Z M429.8,478.1 L431.2,477.6 L434.8,477.2 L437.0,477.4 L439.4,477.1 L440.9,476.3 L441.8,475.1 L442.1,471.6 L443.3,469.8 L442.6,466.7 L441.2,467.4 L440.9,469.3 L440.3,471.6 L437.2,473.6 L436.9,474.4 L436.0,475.6 L432.4,475.9 L429.9,477.4Z M428.7,478.8 L430.5,478.5 L431.2,479.5 L430.3,481.8 L429.0,482.1 L428.5,479.8Z M431.8,478.4 L434.2,477.8 L433.8,479.1 L432.4,479.8Z M441.1,466.1 L442.1,464.9 L444.7,465.7 L447.5,463.6 L446.9,462.4 L444.5,461.9 L442.9,460.0 L442.4,463.3 L441.2,464.1Z M443.3,459.0 L445.1,457.6 L444.5,453.6 L446.3,453.2 L444.7,447.9 L444.5,443.2 L443.7,443.8 L443.3,447.9 L443.3,453.6Z M416.8,493.3 L417.8,490.4 L418.9,490.7 L418.4,492.7 L417.6,494.6Z M402.9,498.1 L404.5,497.1 L405.7,497.6 L405.1,498.9 L403.9,499.5 L402.9,499.0Z M367.8,512.3 L368.3,510.1 L369.5,511.6 L370.4,513.5 L369.3,514.6 L368.1,514.7 L367.8,513.5Z M417.0,502.3 L417.3,499.2 L419.3,499.3 L419.4,501.7 L418.4,503.6 L419.6,504.8 L421.4,506.1 L421.4,506.7 L419.6,505.5 L417.8,505.2 L417.2,504.2 L416.6,503.0Z M419.0,513.5 L420.8,511.5 L423.3,510.2 L424.5,512.3 L424.1,514.3 L423.3,515.1 L421.4,514.3 L420.2,512.9Z M419.0,509.2 L420.2,508.0 L422.7,506.7 L423.3,508.6 L422.1,509.8 L420.2,510.8 L419.6,509.8Z M413.2,511.9 L416.0,509.2 L416.2,508.2 L414.2,510.7Z M403.2,520.2 L404.5,519.9 L406.0,519.0 L408.1,518.1 L410.5,515.9 L412.6,513.5 L413.8,514.3 L415.4,515.7 L414.2,516.5 L413.9,518.4 L414.2,520.8 L413.6,522.0 L412.3,523.8 L411.7,526.2 L410.0,526.9 L408.1,526.0 L406.3,525.6 L404.5,523.8 L403.2,522.4Z M386.6,515.2 L389.3,515.7 L392.3,518.6 L394.1,519.9 L396.6,522.0 L397.8,524.4 L399.6,525.6 L399.4,529.0 L397.8,528.9 L395.1,526.9 L393.5,525.0 L391.1,522.0 L388.7,519.0Z M398.6,530.3 L400.5,529.3 L402.6,530.1 L405.1,530.3 L407.7,530.5 L409.9,531.4 L409.8,532.6 L406.9,532.1 L403.2,531.5 L400.2,531.0Z M410.5,532.0 L413.0,532.1 L415.4,532.1 L415.4,533.0 L411.7,533.0 L410.5,532.6Z M416.5,532.2 L420.2,532.1 L420.0,532.8 L416.6,532.8Z M420.8,534.6 L422.7,533.2 L425.1,532.2 L424.5,533.2 L422.1,534.4Z M416.4,521.0 L417.6,520.4 L420.2,520.9 L422.7,520.1 L422.1,521.5 L417.8,521.5 L416.8,523.1 L418.4,523.1 L420.6,523.0 L420.0,523.8 L418.4,524.3 L419.4,526.0 L420.2,527.5 L419.6,528.7 L418.4,527.5 L417.7,525.6 L417.0,526.2 L417.1,528.7 L416.0,528.7 L416.0,526.2 L415.1,525.3 L415.7,523.2Z M425.7,519.8 L426.9,520.8 L426.3,522.6 L425.7,521.4Z M-6.8,523.0 L-5.0,522.5 L-3.2,523.0 L-2.0,526.0 L1.0,523.9 L5.3,525.2 L9.5,526.6 L11.4,528.1 L13.2,529.3 L12.8,530.3 L14.4,532.7 L16.8,534.8 L13.8,534.4 L12.0,532.7 L9.5,531.4 L8.3,532.6 L5.9,533.2 L2.9,531.7 L1.6,532.1 L2.6,530.5 L1.6,528.7 L-1.4,527.3 L-4.4,526.9 L-4.7,526.0 L-3.6,524.8 L-5.6,524.7Z M429.9,523.0 L431.8,522.5 L433.6,523.0 L434.8,526.0 L437.8,523.9 L442.1,525.2 L446.3,526.6 L448.1,528.1 L450.0,529.3 L449.6,530.3 L451.2,532.7 L453.6,534.8 L450.6,534.4 L448.7,532.7 L446.3,531.4 L445.1,532.6 L442.7,533.2 L439.6,531.7 L438.4,532.1 L439.4,530.5 L438.4,528.7 L435.4,527.3 L432.4,526.9 L432.1,526.0 L433.2,524.8 L431.2,524.7Z M14.4,528.8 L16.8,528.7 L18.9,527.1 L18.6,528.4 L16.2,529.7Z M451.2,528.8 L453.6,528.7 L455.7,527.1 L455.4,528.4 L453.0,529.7Z M-27.8,550.0 L-27.5,549.1 L-24.4,547.6 L-21.4,546.8 L-18.4,545.5 L-17.4,543.2 L-15.8,542.9 L-14.7,541.7 L-12.9,539.2 L-10.5,540.2 L-8.7,540.3 L-7.1,537.2 L-5.0,536.0 L-2.0,536.9 L0.2,536.9 L-0.8,538.5 L-1.4,540.4 L1.0,541.7 L3.5,543.6 L5.0,543.6 L6.0,540.4 L6.1,537.3 L7.1,535.2 L8.3,537.3 L8.6,539.5 L10.5,540.4 L11.4,543.6 L11.7,545.4 L14.6,547.2 L15.6,549.8 L17.2,551.3 L19.8,554.0 L20.5,557.7 L19.8,561.6 L18.0,565.2 L16.4,568.9 L16.2,571.1 L13.8,571.8 L11.7,573.5 L9.8,572.2 L8.3,573.2 L5.3,572.1 L3.7,570.1 L2.3,567.4 L1.3,564.2 L-0.8,567.1 L-1.7,566.6 L-3.0,564.5 L-5.6,563.0 L-9.3,562.4 L-12.9,563.4 L-15.3,564.5 L-15.9,565.8 L-20.2,565.8 L-22.6,567.4 L-25.0,567.1 L-26.3,566.4 L-25.4,563.0 L-26.3,560.2 L-27.2,556.7 L-28.3,554.7 L-28.1,552.0Z M409.0,550.0 L409.3,549.1 L412.3,547.6 L415.4,546.8 L418.4,545.5 L419.4,543.2 L421.0,542.9 L422.1,541.7 L423.9,539.2 L426.3,540.2 L428.1,540.3 L429.7,537.2 L431.8,536.0 L434.8,536.9 L437.0,536.9 L436.0,538.5 L435.4,540.4 L437.8,541.7 L440.3,543.6 L441.8,543.6 L442.8,540.4 L442.9,537.3 L443.9,535.2 L445.1,537.3 L445.4,539.5 L447.3,540.4 L448.1,543.6 L448.5,545.4 L451.4,547.2 L452.4,549.8 L454.0,551.3 L456.6,554.0 L457.2,557.7 L456.6,561.6 L454.8,565.2 L453.2,568.9 L453.0,571.1 L450.6,571.8 L448.5,573.5 L446.6,572.2 L445.1,573.2 L442.1,572.1 L440.5,570.1 L439.0,567.4 L438.1,564.2 L436.0,567.1 L435.0,566.6 L433.8,564.5 L431.2,563.0 L427.5,562.4 L423.9,563.4 L421.4,564.5 L420.8,565.8 L416.6,565.8 L414.2,567.4 L411.7,567.1 L410.5,566.4 L411.4,563.0 L410.5,560.2 L409.6,556.7 L408.5,554.7 L408.7,552.0Z M9.8,576.2 L12.0,576.8 L14.1,576.5 L13.8,579.9 L12.0,580.9 L10.5,579.1Z M446.6,576.2 L448.7,576.8 L450.9,576.5 L450.6,579.9 L448.7,580.9 L447.3,579.1Z M43.7,566.5 L45.7,567.8 L47.1,570.4 L49.0,571.8 L50.8,571.5 L49.6,573.9 L48.8,575.8 L46.9,577.6 L46.3,577.1 L46.5,575.0 L45.1,573.9 L46.2,571.9 L45.9,569.6 L44.1,567.4Z M480.5,566.5 L482.5,567.8 L483.9,570.4 L485.8,571.8 L487.6,571.5 L486.4,573.9 L485.6,575.8 L483.7,577.6 L483.1,577.1 L483.3,575.0 L481.9,573.9 L483.0,571.9 L482.7,569.6 L480.9,567.4Z M43.7,575.8 L45.7,577.8 L43.9,581.1 L42.1,582.1 L41.4,584.8 L39.3,586.1 L37.4,585.4 L36.2,584.7 L38.4,581.6 L41.1,579.9 L42.9,577.4Z M480.5,575.8 L482.5,577.8 L480.7,581.1 L478.8,582.1 L478.2,584.8 L476.0,586.1 L474.2,585.4 L473.0,584.7 L475.2,581.6 L477.9,579.9 L479.7,577.4Z M330.8,536.7 L332.3,541.0 L331.1,543.6 L329.2,549.4 L328.0,553.3 L325.6,554.0 L324.0,551.3 L324.7,546.8 L324.4,542.9 L326.8,541.4 L329.2,538.5Z M263.8,475.4 L264.6,475.3 L267.4,476.2 L268.6,476.5 L271.0,475.4 L274.6,473.9 L279.5,473.6 L283.1,473.2 L284.3,473.8 L283.7,475.9 L283.1,478.1 L284.3,479.1 L287.0,479.7 L289.6,480.6 L290.4,482.0 L292.8,483.1 L294.7,483.3 L295.3,481.0 L297.1,479.7 L298.9,480.1 L301.3,481.4 L304.4,482.1 L306.2,482.5 L308.6,481.7 L310.2,482.1 L310.6,483.8 L311.6,486.6 L312.3,488.6 L313.5,491.3 L314.3,493.3 L315.9,495.9 L316.3,498.5 L317.7,499.8 L318.9,503.0 L320.7,504.2 L323.2,506.6 L323.5,508.0 L325.0,509.3 L328.0,508.3 L333.1,507.3 L332.9,509.2 L330.5,513.5 L329.2,516.5 L326.8,519.0 L323.8,521.6 L322.0,523.2 L319.5,525.6 L318.9,527.5 L318.3,529.9 L318.9,533.0 L320.1,535.4 L320.1,539.8 L318.3,542.7 L315.9,544.0 L313.5,546.5 L314.1,549.4 L313.8,552.0 L311.0,554.0 L310.8,556.0 L309.8,558.8 L308.0,561.6 L305.0,564.5 L302.2,565.9 L298.3,566.1 L295.3,567.1 L293.3,566.2 L292.8,563.7 L291.6,560.2 L290.8,558.1 L289.2,554.7 L288.6,550.0 L286.2,544.8 L285.3,542.3 L287.4,537.3 L287.1,533.0 L285.9,529.3 L285.3,527.5 L282.5,524.8 L281.7,522.8 L282.5,520.8 L282.8,517.8 L281.7,516.5 L279.5,516.7 L278.3,516.8 L276.5,514.5 L275.1,514.2 L272.5,514.7 L269.8,515.7 L268.6,516.3 L266.1,515.7 L261.9,516.7 L260.1,515.9 L257.0,513.7 L255.0,511.6 L254.6,510.1 L252.8,508.6 L250.6,506.7 L249.8,504.0 L251.0,502.3 L251.2,498.5 L250.4,495.9 L251.6,492.7 L253.4,489.3 L255.2,486.9 L257.0,486.2 L258.9,484.5 L259.2,482.4 L260.7,479.1 L262.7,478.1Z M286.2,472.1 L289.9,471.8 L289.4,474.1 L286.2,472.7Z M280.9,467.4 L282.8,467.4 L282.6,470.2 L281.3,470.5Z M281.4,464.9 L282.5,464.1 L282.5,466.6 L281.6,466.4Z M299.5,475.9 L302.9,476.2 L300.7,476.8Z M310.2,476.6 L312.9,475.7 L311.6,477.2Z" fill="#f6f4f0" stroke="#e4e1dc" stroke-width="0.3"/>
<path d="M328.0,460.7 L331.1,458.1 L335.3,458.1 L334.7,460.7 L332.9,461.6 L332.0,464.1 L334.7,465.7 L335.3,469.0 L336.5,472.1 L335.9,473.6 L332.9,474.1 L330.5,472.7 L330.5,469.8 L331.7,468.3 L329.2,465.7 L328.0,463.3Z" fill="#b3c6ef"/>
<path d="M159.4,457.8 L163.0,455.4 L166.7,455.8 L168.2,458.1 L165.4,458.1 L161.8,457.9Z M164.5,465.7 L166.3,465.7 L167.9,459.9 L166.7,459.0 L164.8,460.7Z M168.5,459.0 L172.7,459.0 L173.9,461.6 L171.5,464.1 L169.7,462.4 L169.7,459.9Z M169.9,466.2 L175.1,464.6 L175.1,464.1 L171.5,464.9Z M174.3,463.6 L178.4,463.3 L178.2,462.1 L175.1,462.6Z M119.3,417.3 L125.4,417.3 L127.8,412.8 L124.2,411.3 L120.6,414.3Z M129.0,428.0 L133.9,427.2 L138.8,423.3 L136.3,422.8 L131.5,424.9Z M150.9,450.8 L153.9,450.8 L152.7,444.5 L150.9,445.9Z M309.5,522.6 L312.3,521.6 L312.5,524.4 L311.0,525.4 L309.6,524.4Z M342.0,462.4 L343.8,463.3 L345.0,460.7 L344.4,458.1 L342.6,458.5Z M308.0,430.4 L310.8,429.7 L310.4,426.7 L307.4,427.5Z" fill="#c9d6f1"/>
<text x="61.9" y="484.4" font-size="10.2" fill="#4a76c8" font-weight="normal" textLength="28.5" lengthAdjust="spacingAndGlyphs">Pacific</text>
<text x="62.9" y="495.2" font-size="10.2" fill="#4a76c8" font-weight="normal" textLength="28.9" lengthAdjust="spacingAndGlyphs">Ocean</text>
<text x="210.3" y="486.2" font-size="10.2" fill="#4a76c8" font-weight="normal" textLength="35.2" lengthAdjust="spacingAndGlyphs">Atlantic</text>
<text x="215.5" y="497.2" font-size="10.2" fill="#4a76c8" font-weight="normal" textLength="28.6" lengthAdjust="spacingAndGlyphs">Ocean</text>
<text x="357.7" y="551.5" font-size="10.2" fill="#4a76c8" font-weight="normal" textLength="28.5" lengthAdjust="spacingAndGlyphs">Indian</text>
<text x="358.4" y="562.4" font-size="10.2" fill="#4a76c8" font-weight="normal" textLength="28.6" lengthAdjust="spacingAndGlyphs">Ocean</text>
<text x="128.7" y="449.0" font-size="9.5" fill="#111" font-weight="bold" textLength="81.7" lengthAdjust="spacingAndGlyphs" stroke="#fff" stroke-width="1.6" stroke-opacity="0.7" paint-order="stroke" stroke-linejoin="round">NORTH AMERICA</text>
<text x="189.1" y="546.0" font-size="9.5" fill="#111" font-weight="bold" textLength="80.4" lengthAdjust="spacingAndGlyphs" stroke="#fff" stroke-width="1.6" stroke-opacity="0.7" paint-order="stroke" stroke-linejoin="round">SOUTH AMERICA</text>
<text x="290.6" y="453.8" font-size="9.3" fill="#111" font-weight="bold" textLength="37.4" lengthAdjust="spacingAndGlyphs" stroke="#fff" stroke-width="1.6" stroke-opacity="0.7" paint-order="stroke" stroke-linejoin="round">EUROPE</text>
<text x="292.4" y="518.9" font-size="9.3" fill="#111" font-weight="bold" textLength="33.6" lengthAdjust="spacingAndGlyphs" stroke="#fff" stroke-width="1.6" stroke-opacity="0.7" paint-order="stroke" stroke-linejoin="round">AFRICA</text>
<text x="391.9" y="446.0" font-size="9.3" fill="#111" font-weight="bold" textLength="21.6" lengthAdjust="spacingAndGlyphs" stroke="#fff" stroke-width="1.6" stroke-opacity="0.7" paint-order="stroke" stroke-linejoin="round">ASIA</text>
<text x="427.2" y="554.8" font-size="9.3" fill="#111" font-weight="bold" textLength="53.1" lengthAdjust="spacingAndGlyphs" stroke="#fff" stroke-width="1.6" stroke-opacity="0.7" paint-order="stroke" stroke-linejoin="round">AUSTRALIA</text>
<circle cx="323.3" cy="479.2" r="7.40" fill="#b3152e" fill-opacity="0.58" stroke="#aa122b" stroke-width="1"/>
<circle cx="352.8" cy="484.9" r="5.80" fill="#b3152e" fill-opacity="0.58" stroke="#aa122b" stroke-width="1"/>
<circle cx="349.6" cy="478.6" r="5.60" fill="#b3152e" fill-opacity="0.58" stroke="#aa122b" stroke-width="1"/>
<circle cx="365.4" cy="494.2" r="5.40" fill="#b3152e" fill-opacity="0.58" stroke="#aa122b" stroke-width="1"/>
<circle cx="181.1" cy="517.1" r="4.80" fill="#b3152e" fill-opacity="0.58" stroke="#aa122b" stroke-width="1"/>
<circle cx="416.5" cy="502.4" r="4.40" fill="#b3152e" fill-opacity="0.58" stroke="#aa122b" stroke-width="1"/>
<circle cx="178.4" cy="530.3" r="4.30" fill="#b3152e" fill-opacity="0.58" stroke="#aa122b" stroke-width="1"/>
<circle cx="266.3" cy="444.3" r="4.00" fill="#b3152e" fill-opacity="0.58" stroke="#aa122b" stroke-width="1"/>
<circle cx="312.3" cy="470.8" r="3.70" fill="#b3152e" fill-opacity="0.58" stroke="#aa122b" stroke-width="1"/>
<circle cx="328.8" cy="512" r="3.70" fill="#b3152e" fill-opacity="0.58" stroke="#aa122b" stroke-width="1"/>
<circle cx="279.3" cy="510.1" r="3.70" fill="#b3152e" fill-opacity="0.58" stroke="#aa122b" stroke-width="1"/>
<circle cx="391.8" cy="503.5" r="3.50" fill="#b3152e" fill-opacity="0.58" stroke="#aa122b" stroke-width="1"/>
<circle cx="327.4" cy="502" r="3.40" fill="#b3152e" fill-opacity="0.58" stroke="#aa122b" stroke-width="1"/>
<circle cx="149.5" cy="470.3" r="3.30" fill="#b3152e" fill-opacity="0.58" stroke="#aa122b" stroke-width="1"/>
<circle cx="265.2" cy="468.4" r="3.30" fill="#b3152e" fill-opacity="0.58" stroke="#aa122b" stroke-width="1"/>
<circle cx="161.5" cy="505.9" r="3.20" fill="#b3152e" fill-opacity="0.58" stroke="#aa122b" stroke-width="1"/>
<circle cx="272.6" cy="458" r="3.20" fill="#b3152e" fill-opacity="0.58" stroke="#aa122b" stroke-width="1"/>
<circle cx="273.2" cy="486.7" r="3.20" fill="#b3152e" fill-opacity="0.58" stroke="#aa122b" stroke-width="1"/>
<circle cx="367.2" cy="512.8" r="3.20" fill="#b3152e" fill-opacity="0.58" stroke="#aa122b" stroke-width="1"/>
<circle cx="160" cy="502.9" r="3.00" fill="#b3152e" fill-opacity="0.58" stroke="#aa122b" stroke-width="1"/>
<circle cx="183" cy="562.8" r="3.00" fill="#b3152e" fill-opacity="0.58" stroke="#aa122b" stroke-width="1"/>
<circle cx="387.9" cy="418.5" r="3.00" fill="#b3152e" fill-opacity="0.58" stroke="#aa122b" stroke-width="1"/>
<circle cx="305.9" cy="488.8" r="2.90" fill="#b3152e" fill-opacity="0.58" stroke="#aa122b" stroke-width="1"/>
<circle cx="291.5" cy="488.4" r="2.90" fill="#b3152e" fill-opacity="0.58" stroke="#aa122b" stroke-width="1"/>
<circle cx="284.1" cy="463.5" r="2.70" fill="#b3152e" fill-opacity="0.58" stroke="#aa122b" stroke-width="1"/>
<circle cx="316.6" cy="477.1" r="2.70" fill="#b3152e" fill-opacity="0.58" stroke="#aa122b" stroke-width="1"/>
<circle cx="311.7" cy="483" r="2.70" fill="#b3152e" fill-opacity="0.58" stroke="#aa122b" stroke-width="1"/>
<circle cx="299.7" cy="558.6" r="2.60" fill="#b3152e" fill-opacity="0.58" stroke="#aa122b" stroke-width="1"/>
<circle cx="378.8" cy="492.3" r="2.60" fill="#b3152e" fill-opacity="0.58" stroke="#aa122b" stroke-width="1"/>
<circle cx="166.9" cy="506.3" r="2.40" fill="#b3152e" fill-opacity="0.58" stroke="#aa122b" stroke-width="1"/>
<circle cx="307.3" cy="452.9" r="2.40" fill="#b3152e" fill-opacity="0.58" stroke="#aa122b" stroke-width="1"/>
<circle cx="296.1" cy="470.9" r="2.40" fill="#b3152e" fill-opacity="0.58" stroke="#aa122b" stroke-width="1"/>
<circle cx="371.1" cy="486.3" r="2.30" fill="#b3152e" fill-opacity="0.58" stroke="#aa122b" stroke-width="1"/>
<circle cx="190.7" cy="567.3" r="2.20" fill="#b3152e" fill-opacity="0.58" stroke="#aa122b" stroke-width="1"/>
<circle cx="312.6" cy="478" r="2.20" fill="#b3152e" fill-opacity="0.58" stroke="#aa122b" stroke-width="1"/>
<circle cx="305.2" cy="504.3" r="2.20" fill="#b3152e" fill-opacity="0.58" stroke="#aa122b" stroke-width="1"/>
<circle cx="298.3" cy="525.9" r="2.20" fill="#b3152e" fill-opacity="0.58" stroke="#aa122b" stroke-width="1"/>
<circle cx="335.6" cy="480.4" r="2.10" fill="#b3152e" fill-opacity="0.58" stroke="#aa122b" stroke-width="1"/>
<circle cx="145.2" cy="492.2" r="2.00" fill="#b3152e" fill-opacity="0.58" stroke="#aa122b" stroke-width="1"/>
<circle cx="266.8" cy="501.8" r="2.00" fill="#b3152e" fill-opacity="0.58" stroke="#aa122b" stroke-width="1"/>
<circle cx="315.9" cy="520.5" r="2.00" fill="#b3152e" fill-opacity="0.58" stroke="#aa122b" stroke-width="1"/>
<circle cx="407.4" cy="522.3" r="2.00" fill="#b3152e" fill-opacity="0.58" stroke="#aa122b" stroke-width="1"/>
<circle cx="290.7" cy="536.6" r="1.90" fill="#b3152e" fill-opacity="0.58" stroke="#aa122b" stroke-width="1"/>
<circle cx="386.2" cy="495.8" r="1.90" fill="#b3152e" fill-opacity="0.58" stroke="#aa122b" stroke-width="1"/>
<circle cx="164.4" cy="504.4" r="1.80" fill="#b3152e" fill-opacity="0.58" stroke="#aa122b" stroke-width="1"/>
<circle cx="189.4" cy="512.4" r="1.80" fill="#b3152e" fill-opacity="0.58" stroke="#aa122b" stroke-width="1"/>
<circle cx="282" cy="449.9" r="1.80" fill="#b3152e" fill-opacity="0.58" stroke="#aa122b" stroke-width="1"/>
<circle cx="305.8" cy="526.7" r="1.80" fill="#b3152e" fill-opacity="0.58" stroke="#aa122b" stroke-width="1"/>
<circle cx="311.9" cy="546" r="1.80" fill="#b3152e" fill-opacity="0.58" stroke="#aa122b" stroke-width="1"/>
<circle cx="204.9" cy="534.4" r="1.70" fill="#b3152e" fill-opacity="0.58" stroke="#aa122b" stroke-width="1"/>
<circle cx="322.9" cy="466.6" r="1.70" fill="#b3152e" fill-opacity="0.58" stroke="#aa122b" stroke-width="1"/>
<circle cx="323.4" cy="491.8" r="1.70" fill="#b3152e" fill-opacity="0.58" stroke="#aa122b" stroke-width="1"/>
<circle cx="308.3" cy="520.1" r="1.70" fill="#b3152e" fill-opacity="0.58" stroke="#aa122b" stroke-width="1"/>
<circle cx="436.7" cy="474.1" r="1.70" fill="#b3152e" fill-opacity="0.58" stroke="#aa122b" stroke-width="1"/>
<circle cx="173.3" cy="523.7" r="1.60" fill="#b3152e" fill-opacity="0.58" stroke="#aa122b" stroke-width="1"/>
<circle cx="259.8" cy="446.5" r="1.60" fill="#b3152e" fill-opacity="0.58" stroke="#aa122b" stroke-width="1"/>
<circle cx="395.1" cy="474.4" r="1.60" fill="#b3152e" fill-opacity="0.58" stroke="#aa122b" stroke-width="1"/>
<circle cx="396.5" cy="506.5" r="1.60" fill="#b3152e" fill-opacity="0.58" stroke="#aa122b" stroke-width="1"/>
<circle cx="167.8" cy="509.2" r="1.50" fill="#b3152e" fill-opacity="0.58" stroke="#aa122b" stroke-width="1"/>
<circle cx="172.4" cy="512" r="1.50" fill="#b3152e" fill-opacity="0.58" stroke="#aa122b" stroke-width="1"/>
<circle cx="181.8" cy="498.4" r="1.50" fill="#b3152e" fill-opacity="0.58" stroke="#aa122b" stroke-width="1"/>
<circle cx="259.8" cy="469.4" r="1.50" fill="#b3152e" fill-opacity="0.58" stroke="#aa122b" stroke-width="1"/>
<circle cx="330.6" cy="489.4" r="1.50" fill="#b3152e" fill-opacity="0.58" stroke="#aa122b" stroke-width="1"/>
<circle cx="316.2" cy="509.5" r="1.50" fill="#b3152e" fill-opacity="0.58" stroke="#aa122b" stroke-width="1"/>
<circle cx="285.4" cy="516.6" r="1.50" fill="#b3152e" fill-opacity="0.58" stroke="#aa122b" stroke-width="1"/>
<circle cx="294.3" cy="513.2" r="1.50" fill="#b3152e" fill-opacity="0.58" stroke="#aa122b" stroke-width="1"/>
<circle cx="305.5" cy="544.8" r="1.50" fill="#b3152e" fill-opacity="0.58" stroke="#aa122b" stroke-width="1"/>
<circle cx="408.2" cy="517.4" r="1.50" fill="#b3152e" fill-opacity="0.58" stroke="#aa122b" stroke-width="1"/>
<circle cx="190.7" cy="543.3" r="1.40" fill="#b3152e" fill-opacity="0.58" stroke="#aa122b" stroke-width="1"/>
<circle cx="198.9" cy="551" r="1.40" fill="#b3152e" fill-opacity="0.58" stroke="#aa122b" stroke-width="1"/>
<circle cx="201.6" cy="564.3" r="1.40" fill="#b3152e" fill-opacity="0.58" stroke="#aa122b" stroke-width="1"/>
<circle cx="290.5" cy="550.9" r="1.40" fill="#b3152e" fill-opacity="0.58" stroke="#aa122b" stroke-width="1"/>
<circle cx="355.3" cy="471.3" r="1.40" fill="#b3152e" fill-opacity="0.58" stroke="#aa122b" stroke-width="1"/>
<circle cx="152.4" cy="424.3" r="1.60" fill="#a10f28"/>
<circle cx="171.7" cy="493.4" r="1.60" fill="#a10f28"/>
<circle cx="184.4" cy="498.4" r="1.60" fill="#a10f28"/>
<circle cx="287" cy="431.5" r="1.60" fill="#a10f28"/>
<circle cx="279.4" cy="457.7" r="1.60" fill="#a10f28"/>
<circle cx="280.8" cy="478.4" r="1.60" fill="#a10f28"/>
<circle cx="280.6" cy="500.4" r="1.60" fill="#a10f28"/>
<circle cx="292.4" cy="502.8" r="1.60" fill="#a10f28"/>
<circle cx="350.3" cy="455.5" r="1.60" fill="#a10f28"/>
<circle cx="347" cy="467.2" r="1.60" fill="#a10f28"/>
<circle cx="359.8" cy="466.8" r="1.60" fill="#a10f28"/>
<circle cx="424.2" cy="474.8" r="1.60" fill="#a10f28"/>
<circle cx="416.1" cy="492.3" r="1.60" fill="#a10f28"/>
<circle cx="444" cy="528.8" r="1.60" fill="#a10f28"/>
<circle cx="175.8" cy="499.7" r="1.50" fill="#a10f28"/>
<circle cx="276.2" cy="447.7" r="1.50" fill="#a10f28"/>
<circle cx="275.4" cy="451" r="1.50" fill="#a10f28"/>
<circle cx="327.3" cy="468.5" r="1.50" fill="#a10f28"/>
<circle cx="310.2" cy="477" r="1.50" fill="#a10f28"/>
<circle cx="315" cy="483.3" r="1.50" fill="#a10f28"/>
<circle cx="260.5" cy="482.3" r="1.50" fill="#a10f28"/>
<circle cx="258.3" cy="497.1" r="1.50" fill="#a10f28"/>
<circle cx="251.6" cy="504.6" r="1.50" fill="#a10f28"/>
<circle cx="267.4" cy="507.3" r="1.50" fill="#a10f28"/>
<circle cx="262.6" cy="512.2" r="1.50" fill="#a10f28"/>
<circle cx="305.9" cy="512.6" r="1.50" fill="#a10f28"/>
<circle cx="288.4" cy="522.9" r="1.50" fill="#a10f28"/>
<circle cx="305.9" cy="524.8" r="1.50" fill="#a10f28"/>
<circle cx="312.9" cy="530" r="1.50" fill="#a10f28"/>
<circle cx="302.8" cy="539.7" r="1.50" fill="#a10f28"/>
<circle cx="307.5" cy="555.4" r="1.50" fill="#a10f28"/>
<circle cx="303.6" cy="559.6" r="1.50" fill="#a10f28"/>
<circle cx="395" cy="499.1" r="1.50" fill="#a10f28"/>
<circle cx="400.6" cy="505.7" r="1.50" fill="#a10f28"/>
<circle cx="358.1" cy="521.8" r="1.50" fill="#a10f28"/>
<circle cx="406.7" cy="494.5" r="1.50" fill="#a10f28"/>
<circle cx="395" cy="520.7" r="1.50" fill="#a10f28"/>
<circle cx="421.9" cy="532.8" r="1.50" fill="#a10f28"/>
<circle cx="432" cy="554.6" r="1.50" fill="#a10f28"/>
<circle cx="193.7" cy="501" r="1.40" fill="#a10f28"/>
<circle cx="195.1" cy="502.9" r="1.40" fill="#a10f28"/>
<circle cx="195.9" cy="505.1" r="1.40" fill="#a10f28"/>
<circle cx="196.6" cy="506.6" r="1.40" fill="#a10f28"/>
<circle cx="195.1" cy="508.3" r="1.40" fill="#a10f28"/>
<circle cx="198.5" cy="516.4" r="1.40" fill="#a10f28"/>
<circle cx="201.7" cy="517.3" r="1.40" fill="#a10f28"/>
<circle cx="205.2" cy="517.3" r="1.40" fill="#a10f28"/>
<circle cx="247.6" cy="417.6" r="1.40" fill="#a10f28"/>
<circle cx="301" cy="422.4" r="1.40" fill="#a10f28"/>
<circle cx="282.4" cy="431" r="1.40" fill="#a10f28"/>
<circle cx="280.4" cy="440.1" r="1.40" fill="#a10f28"/>
<circle cx="286.3" cy="456.2" r="1.40" fill="#a10f28"/>
<circle cx="304.3" cy="457.2" r="1.40" fill="#a10f28"/>
<circle cx="287.6" cy="459.3" r="1.40" fill="#a10f28"/>
<circle cx="288.8" cy="460.9" r="1.40" fill="#a10f28"/>
<circle cx="291.2" cy="462.1" r="1.40" fill="#a10f28"/>
<circle cx="294.3" cy="462.3" r="1.40" fill="#a10f28"/>
<circle cx="293.7" cy="464.8" r="1.40" fill="#a10f28"/>
<circle cx="294.9" cy="466.6" r="1.40" fill="#a10f28"/>
<circle cx="295.5" cy="468.4" r="1.40" fill="#a10f28"/>
<circle cx="300.4" cy="464.8" r="1.40" fill="#a10f28"/>
<circle cx="334.9" cy="492.1" r="1.40" fill="#a10f28"/>
<circle cx="321.5" cy="507.7" r="1.40" fill="#a10f28"/>
<circle cx="315.6" cy="502.6" r="1.40" fill="#a10f28"/>
<circle cx="287" cy="475.4" r="1.40" fill="#a10f28"/>
<circle cx="251" cy="507" r="1.40" fill="#a10f28"/>
<circle cx="255.9" cy="509.1" r="1.40" fill="#a10f28"/>
<circle cx="254.9" cy="511.6" r="1.40" fill="#a10f28"/>
<circle cx="258.3" cy="514.8" r="1.40" fill="#a10f28"/>
<circle cx="283.9" cy="523.3" r="1.40" fill="#a10f28"/>
<circle cx="310.5" cy="538.4" r="1.40" fill="#a10f28"/>
<circle cx="325.7" cy="545.5" r="1.40" fill="#a10f28"/>
<circle cx="299.5" cy="550.9" r="1.40" fill="#a10f28"/>
<circle cx="341.4" cy="470.1" r="1.40" fill="#a10f28"/>
<circle cx="408.2" cy="493.7" r="1.40" fill="#a10f28"/>
<circle cx="478.8" cy="577.5" r="1.40" fill="#a10f28"/>
<circle cx="174.9" cy="490.9" r="1.30" fill="#a10f28"/>
<circle cx="197.4" cy="596" r="1.30" fill="#a10f28"/>
<circle cx="55.9" cy="538" r="1.30" fill="#a10f28"/>
<circle cx="88.5" cy="544" r="1.30" fill="#a10f28"/>
<circle cx="300.2" cy="433.9" r="1.30" fill="#a10f28"/>
<circle cx="299.4" cy="437.9" r="1.30" fill="#a10f28"/>
<circle cx="298" cy="441.3" r="1.30" fill="#a10f28"/>
<circle cx="302.9" cy="445" r="1.30" fill="#a10f28"/>
<circle cx="292.7" cy="448.5" r="1.30" fill="#a10f28"/>
<circle cx="287.9" cy="452.6" r="1.30" fill="#a10f28"/>
<circle cx="293" cy="454.4" r="1.30" fill="#a10f28"/>
<circle cx="293.3" cy="457.4" r="1.30" fill="#a10f28"/>
<circle cx="299.8" cy="459.3" r="1.30" fill="#a10f28"/>
<circle cx="327.3" cy="485.1" r="1.30" fill="#a10f28"/>
<circle cx="250.7" cy="506.2" r="1.30" fill="#a10f28"/>
<circle cx="268" cy="512" r="1.30" fill="#a10f28"/>
<circle cx="269.9" cy="511.3" r="1.30" fill="#a10f28"/>
<circle cx="271.7" cy="510.7" r="1.30" fill="#a10f28"/>
<circle cx="282.1" cy="519.9" r="1.30" fill="#a10f28"/>
<circle cx="323" cy="537" r="1.30" fill="#a10f28"/>
<circle cx="336.6" cy="527.7" r="1.30" fill="#a10f28"/>
<circle cx="339.1" cy="547.1" r="1.30" fill="#a10f28"/>
<circle cx="378.9" cy="487.5" r="1.30" fill="#a10f28"/>
<circle cx="423.3" cy="469" r="1.30" fill="#a10f28"/>
<circle cx="462.4" cy="529.8" r="1.30" fill="#a10f28"/>
<circle cx="471.5" cy="540.9" r="1.30" fill="#a10f28"/>
<circle cx="485.1" cy="543.9" r="1.30" fill="#a10f28"/>
<circle cx="271.3" cy="465" r="1.20" fill="#a10f28"/>
<circle cx="469.8" cy="548.5" r="1.20" fill="#a10f28"/>
<circle cx="478.2" cy="425.6" r="13.5" fill="#fff" stroke="#111" stroke-width="1.4"/>
<path d="M471.4,425.6H485M478.2,418.8V432.4" stroke="#111" stroke-width="1.4" fill="none"/>
<circle cx="478.7" cy="473.2" r="15" fill="#cdd5ea" fill-opacity="0.6"/>
<circle cx="478.7" cy="473.2" r="13.6" fill="#fdfdfd" stroke="#dcdde6" stroke-width="1.2"/>
<path d="M471.7,473.2H485.7" stroke="#b5b5b5" stroke-width="1.5" fill="none"/>
<rect x="22.8" y="592.2" width="4" height="4" fill="#f25022"/><rect x="27.3" y="592.2" width="4" height="4" fill="#7fba00"/><rect x="22.8" y="596.7" width="4" height="4" fill="#00a4ef"/><rect x="27.3" y="596.7" width="4" height="4" fill="#ffb900"/>
<text x="33.6" y="599.2" font-size="7.3" fill="#6b6b6b" textLength="41" lengthAdjust="spacingAndGlyphs">Microsoft Bing</text>
<text x="246.2" y="601.8" font-size="7.4" fill="#333" stroke="#fff" stroke-width="1.5" stroke-opacity="0.6" paint-order="stroke" textLength="252" lengthAdjust="spacingAndGlyphs">© 2025 TomTom, © 2025 Microsoft Corporation, © OpenStreetMap  Terms</text>
</svg>
</body></html>
